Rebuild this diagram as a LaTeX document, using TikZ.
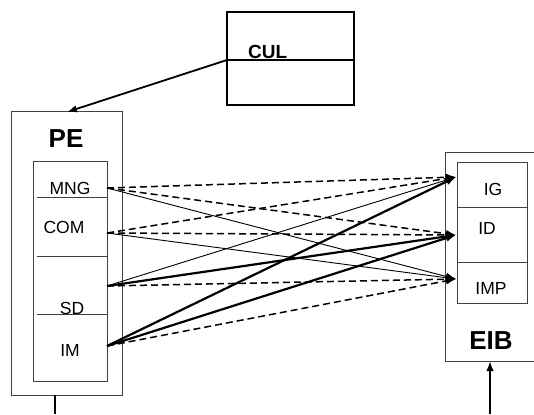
\documentclass[tikz,border=0pt]{standalone}
\usepackage{fontspec}
\setmainfont{Liberation Sans}
\usetikzlibrary{arrows.meta}
\begin{document}
\begin{tikzpicture}[x=1pt,y=-1pt,
  box/.style={draw=black!75,line width=1pt},
  lab/.style={font=\fontsize{17.5}{17.5}\selectfont,inner sep=0pt},
  big/.style={font=\fontsize{26}{26}\selectfont\bfseries,inner sep=0pt},
  tip/.style={-{Latex[length=10pt,width=7.5pt]}},
  thinl/.style={tip,line width=0.9pt},
  thickl/.style={tip,line width=2.2pt},
  dashl/.style={tip,line width=1.5pt,dash pattern=on 7pt off 4pt}]
\useasboundingbox (0,0) rectangle (534,414);
% CUL
\draw[line width=1.8pt] (227,12) rectangle (354,105);
\coordinate (culL) at (227,60);
\draw[line width=1.6pt] (culL) -- (354,60);
\node[font=\fontsize{19}{19}\selectfont\bfseries,inner sep=0pt,anchor=base west] (cul) at (248,59) {CUL};
% PE
\draw[box] (11,112) rectangle (122,395);
\coordinate (peTop) at (67,112);
\node[big] (pe) at (66,139) {PE};
\draw[box] (33,161) rectangle (107,381);
\draw[box] (37,197) -- (107,197);
\draw[box] (37,256) -- (107,256);
\draw[box] (37,314) -- (107,314);
\node[lab] (mng) at (70,188) {MNG};
\node[lab] (com) at (64,227) {COM};
\node[lab] (sd) at (72,308) {SD};
\node[lab] (im) at (70,350) {IM};
\coordinate (peBot) at (55,395);
\coordinate (peEnd) at (55,414);
\draw[line width=1.8pt] (peBot) -- (peEnd);
\draw[line width=1.8pt,-{Latex[length=10pt,width=7.5pt]}] (culL) -- (peTop);
% EIB
\draw[box] (540,152) -- (445,152) -- (445,361) -- (540,361);
\draw[box] (457,162) rectangle (527,303);
\draw[box] (457,207) -- (527,207);
\draw[box] (457,262) -- (527,262);
\node[lab] (ig) at (493,189) {IG};
\node[lab] (id) at (487,228) {ID};
\node[lab] (imp) at (491,288) {IMP};
\node[big] (eib) at (491,341) {EIB};
\coordinate (eibBot) at (490,361);
\coordinate (eibEnd) at (490,414);
\draw[line width=1.8pt,-{Latex[length=10pt,width=7.5pt]}] (eibEnd) -- (eibBot);
% connection points
\coordinate (sMNG) at (107,188);
\coordinate (sCOM) at (107,233);
\coordinate (sSD) at (107,286);
\coordinate (sIM) at (107,346);
\coordinate (tIG) at (456,177);
\coordinate (tID) at (456,235);
\coordinate (tIMP) at (456,279);
% connectors
\draw[dashl] (sMNG) -- (tIG);
\draw[dashl] (sMNG) -- (tID);
\draw[thinl] (sMNG) -- (tIMP);
\draw[dashl] (sCOM) -- (tIG);
\draw[dashl] (sCOM) -- (tID);
\draw[thinl] (sCOM) -- (tIMP);
\draw[thinl] (sSD) -- (tIG);
\draw[thickl] (sSD) -- (tID);
\draw[dashl] (sSD) -- (tIMP);
\draw[thickl] (sIM) -- (tIG);
\draw[thickl] (sIM) -- (tID);
\draw[dashl] (sIM) -- (tIMP);
\end{tikzpicture}
\end{document}
